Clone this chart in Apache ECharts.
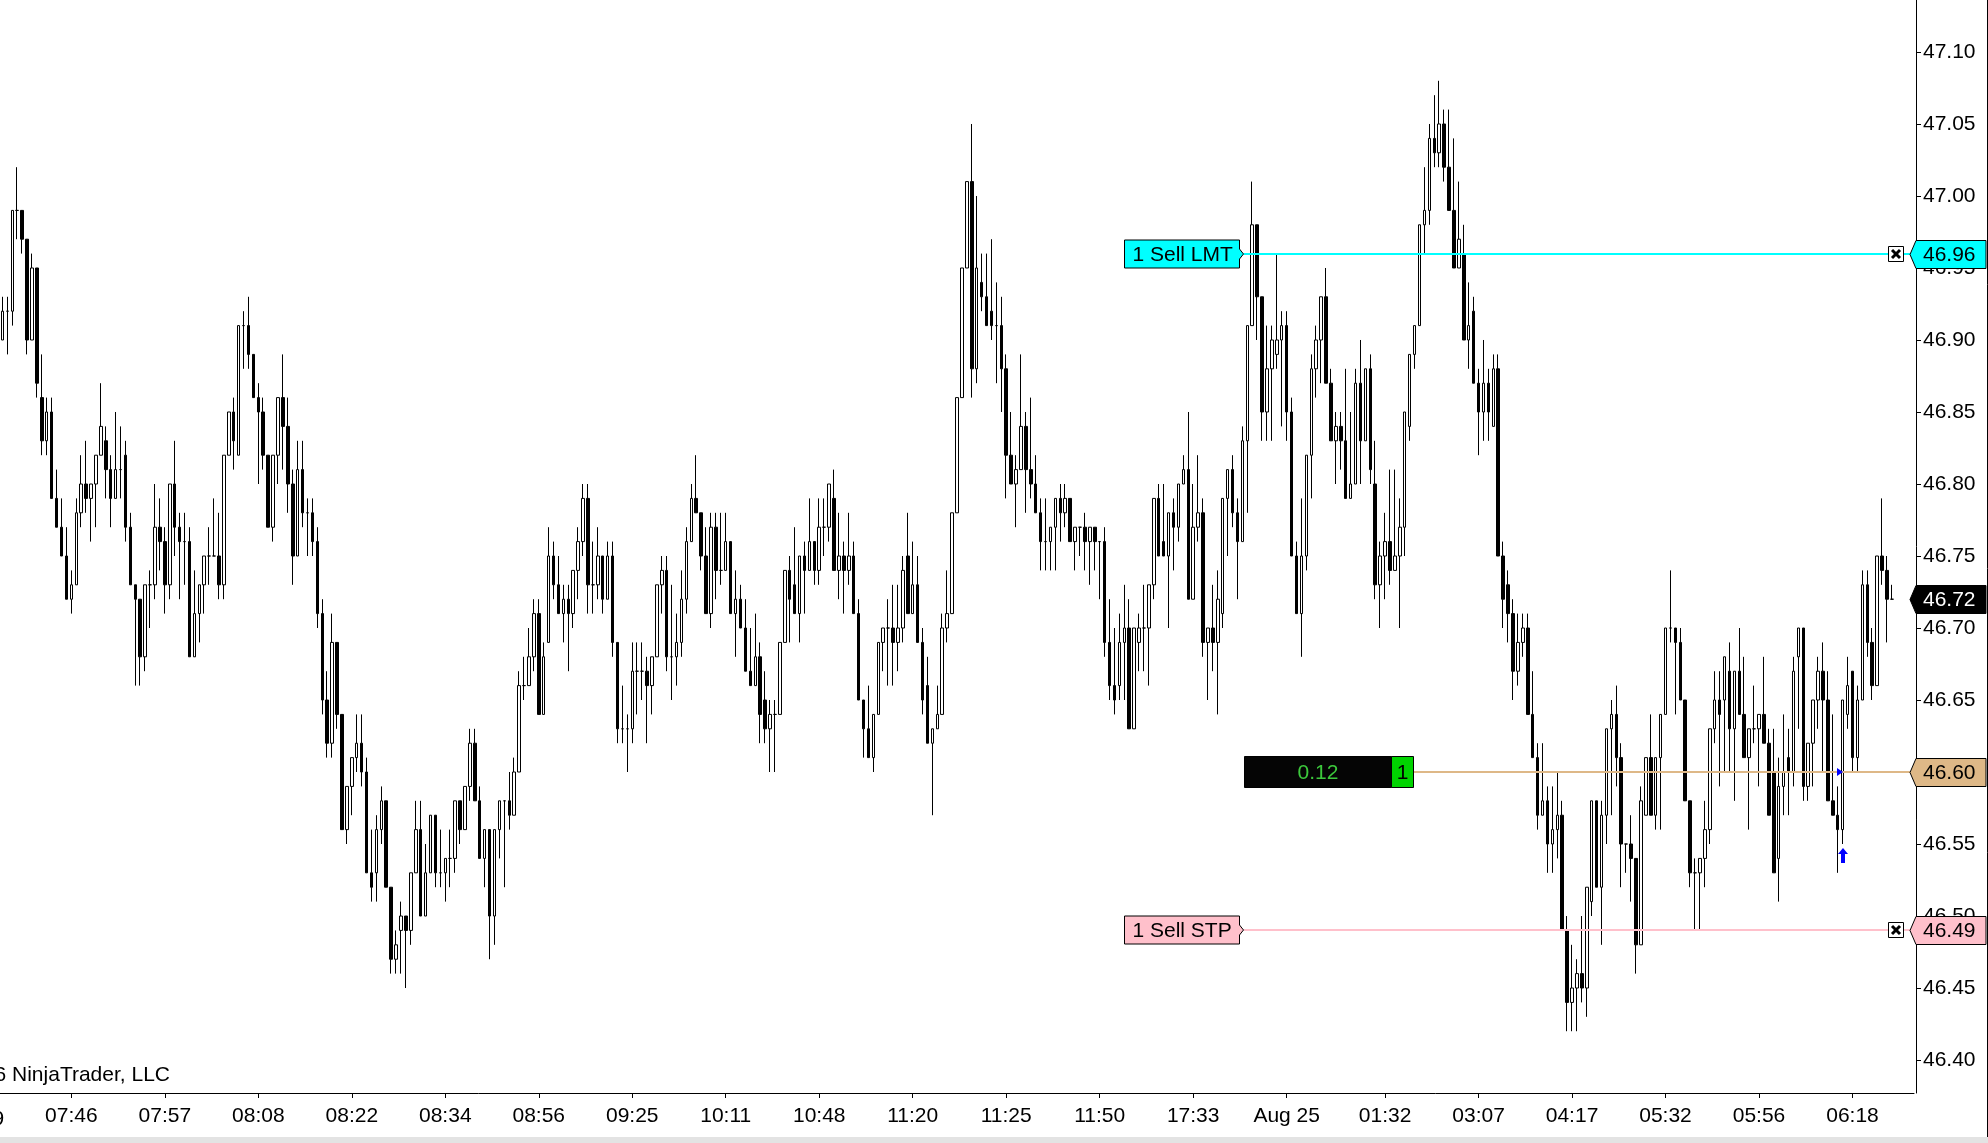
<!DOCTYPE html>
<html>
<head>
<meta charset="utf-8">
<script src="https://cdn.jsdelivr.net/npm/echarts@6/dist/echarts.min.js"></script>
<style>
html,body{margin:0;padding:0;background:#fff;overflow:hidden;}
#chart{width:1988px;height:1143px;}
</style>
</head>
<body>
<div id="chart"></div>
<script>
// ---- DATA (prices in cents, 4692 = 46.92) ----
const openC = [
4690,4692,4692,4699,4699,4697,4690,4695,4686,4683,
4685,4679,4677,4675,4672,4673,4678,4680,4679,4680,
4682,4683,4681,4679,4681,4682,4677,4673,4672,4668,
4673,4673,4677,4676,4673,4680,4677,4676,4676,4668,
4671,4673,4675,4675,4675,4673,4682,4685,4682,4691,
4691,4689,4686,4685,4682,4677,4682,4686,4684,4680,
4675,4681,4678,4678,4676,4671,4665,4662,4669,4664,
4656,4659,4661,4662,4660,4653,4653,4656,4658,4652,
4647,4649,4650,4649,4653,4656,4650,4653,4657,4653,
4653,4654,4654,4658,4656,4659,4662,4658,4654,4656,
4650,4656,4658,4658,4657,4660,4666,4666,4668,4671,
4664,4669,4675,4673,4671,4672,4671,4674,4676,4679,
4673,4673,4675,4672,4675,4669,4663,4663,4663,4667,
4667,4667,4666,4668,4673,4674,4668,4668,4669,4672,
4676,4679,4678,4675,4671,4677,4674,4674,4676,4671,
4672,4670,4667,4666,4668,4665,4663,4664,4664,4669,
4674,4673,4671,4675,4674,4676,4674,4677,4677,4679,
4674,4675,4674,4675,4671,4665,4663,4661,4664,4669,
4670,4670,4669,4670,4675,4671,4673,4669,4666,4662,
4663,4664,4670,4671,4678,4686,4695,4701,4688,4694,
4693,4692,4691,4691,4688,4682,4680,4681,4684,4681,
4680,4678,4676,4676,4677,4679,4678,4679,4676,4677,
4677,4676,4677,4676,4676,4669,4666,4666,4669,4670,
4663,4669,4670,4670,4673,4679,4676,4675,4678,4677,
4680,4681,4672,4677,4678,4669,4670,4669,4671,4679,
4681,4678,4676,4683,4691,4698,4693,4685,4688,4689,
4690,4691,4685,4675,4671,4675,4682,4688,4690,4693,
4687,4683,4684,4683,4679,4680,4687,4683,4688,4680,
4673,4675,4676,4674,4675,4677,4684,4689,4691,4698,
4699,4704,4703,4705,4702,4699,4695,4696,4690,4692,
4687,4685,4687,4684,4688,4675,4673,4671,4667,4669,
4670,4664,4661,4657,4658,4655,4656,4657,4649,4644,
4645,4646,4645,4651,4658,4652,4657,4663,4664,4661,
4655,4655,4654,4648,4657,4661,4657,4661,4664,4670,
4670,4669,4665,4658,4653,4653,4654,4656,4663,4665,
4665,4667,4663,4667,4664,4661,4663,4663,4664,4662,
4660,4654,4659,4661,4660,4668,4670,4659,4662,4665,
4667,4665,4658,4657,4656,4664,4667,4661,4665,4673,
4669,4666,4675,4674,4672];
const highC = [
4693,4693,4699,4702,4699,4697,4696,4695,4689,4686,
4686,4681,4679,4677,4674,4679,4682,4683,4680,4682,
4687,4684,4682,4685,4684,4683,4678,4673,4672,4673,
4674,4680,4679,4677,4680,4683,4678,4678,4677,4674,
4673,4675,4677,4679,4678,4682,4685,4686,4691,4692,
4693,4689,4687,4686,4682,4682,4686,4689,4686,4681,
4683,4683,4679,4679,4677,4672,4667,4671,4669,4664,
4659,4661,4664,4664,4661,4656,4657,4659,4658,4652,
4649,4651,4650,4653,4658,4658,4655,4657,4657,4656,
4654,4656,4658,4658,4659,4663,4663,4659,4656,4656,
4656,4658,4658,4660,4661,4667,4668,4670,4672,4672,
4669,4677,4676,4675,4673,4673,4674,4677,4680,4680,
4676,4677,4675,4676,4676,4669,4666,4664,4669,4669,
4669,4668,4668,4673,4675,4675,4673,4671,4674,4677,
4680,4682,4678,4677,4678,4678,4678,4678,4676,4674,
4673,4672,4670,4671,4669,4667,4665,4665,4669,4674,
4675,4677,4675,4676,4679,4676,4679,4679,4680,4681,
4678,4676,4678,4676,4672,4665,4666,4664,4669,4670,
4672,4673,4673,4675,4678,4676,4675,4670,4668,4663,
4666,4671,4674,4678,4686,4695,4701,4705,4700,4696,
4696,4697,4694,4693,4689,4685,4682,4689,4685,4686,
4682,4679,4679,4677,4679,4680,4680,4679,4677,4677,
4678,4677,4677,4676,4677,4672,4670,4671,4673,4672,
4670,4671,4673,4673,4679,4680,4680,4678,4679,4680,
4682,4685,4680,4682,4679,4670,4673,4674,4679,4681,
4682,4679,4684,4691,4701,4698,4693,4691,4691,4696,
4692,4692,4686,4676,4679,4682,4689,4691,4693,4695,
4688,4685,4685,4688,4685,4688,4690,4688,4689,4683,
4676,4678,4681,4681,4679,4685,4689,4691,4698,4702,
4705,4707,4708,4706,4706,4704,4701,4698,4694,4693,
4688,4690,4688,4689,4689,4676,4674,4672,4671,4671,
4671,4667,4662,4662,4659,4659,4660,4658,4650,4648,
4647,4650,4652,4658,4658,4658,4663,4665,4666,4662,
4655,4657,4654,4659,4661,4664,4661,4664,4670,4674,
4670,4670,4665,4658,4654,4654,4658,4663,4667,4667,
4668,4669,4667,4670,4668,4663,4666,4664,4668,4663,
4663,4661,4664,4663,4668,4670,4670,4662,4665,4668,
4669,4667,4664,4659,4665,4668,4667,4666,4674,4674,
4670,4675,4679,4675,4673];
const lowC = [
4690,4689,4691,4697,4696,4689,4690,4686,4682,4682,
4679,4677,4675,4672,4671,4673,4677,4678,4676,4677,
4682,4679,4677,4679,4679,4676,4673,4666,4666,4667,
4670,4672,4674,4671,4672,4675,4672,4673,4668,4668,
4669,4671,4673,4675,4672,4672,4682,4681,4682,4688,
4688,4686,4680,4681,4677,4676,4680,4681,4678,4673,
4675,4677,4675,4675,4670,4664,4661,4661,4663,4656,
4655,4657,4660,4659,4653,4651,4651,4655,4652,4646,
4646,4646,4645,4648,4653,4650,4650,4653,4652,4652,
4651,4652,4653,4655,4656,4658,4658,4654,4652,4647,
4648,4654,4652,4656,4657,4660,4665,4666,4667,4664,
4664,4669,4672,4671,4669,4667,4670,4672,4675,4671,
4671,4672,4671,4672,4668,4662,4662,4660,4662,4664,
4665,4662,4664,4668,4671,4667,4665,4666,4668,4671,
4676,4678,4674,4671,4670,4672,4673,4674,4671,4668,
4670,4667,4666,4666,4662,4662,4660,4660,4664,4669,
4669,4671,4669,4671,4674,4673,4673,4675,4676,4674,
4672,4671,4673,4671,4665,4661,4661,4660,4664,4667,
4666,4666,4667,4669,4671,4671,4669,4664,4662,4657,
4663,4664,4669,4671,4678,4686,4695,4686,4687,4692,
4691,4690,4687,4685,4679,4680,4677,4681,4678,4679,
4678,4674,4674,4674,4674,4676,4677,4676,4674,4675,
4674,4673,4674,4672,4668,4665,4664,4665,4665,4663,
4663,4667,4667,4666,4672,4675,4675,4670,4674,4676,
4680,4672,4672,4676,4668,4665,4667,4664,4670,4675,
4677,4672,4676,4678,4691,4690,4683,4683,4683,4688,
4684,4683,4675,4671,4668,4674,4679,4686,4687,4687,
4683,4680,4681,4679,4679,4680,4680,4683,4680,4672,
4670,4672,4673,4674,4670,4675,4683,4688,4691,4696,
4698,4702,4702,4701,4699,4695,4695,4690,4688,4687,
4682,4683,4683,4684,4675,4670,4669,4665,4666,4668,
4664,4661,4656,4657,4653,4653,4654,4649,4642,4642,
4642,4644,4643,4650,4652,4648,4655,4657,4659,4652,
4653,4651,4646,4648,4657,4657,4656,4656,4664,4669,
4664,4665,4658,4652,4649,4649,4652,4655,4662,4659,
4660,4660,4658,4664,4661,4656,4662,4659,4662,4657,
4653,4651,4657,4657,4659,4663,4658,4658,4659,4663,
4660,4658,4657,4653,4655,4663,4660,4660,4665,4668,
4665,4666,4673,4669,4672];
const closeC = [
4692,4692,4699,4699,4697,4690,4695,4687,4683,4685,
4679,4677,4675,4672,4673,4678,4680,4679,4680,4682,
4684,4681,4679,4681,4681,4677,4673,4672,4668,4673,
4673,4677,4676,4673,4680,4677,4676,4676,4668,4671,
4673,4675,4675,4675,4673,4682,4685,4683,4691,4691,
4689,4686,4685,4682,4677,4682,4686,4684,4680,4675,
4681,4678,4678,4676,4671,4665,4662,4669,4664,4656,
4659,4661,4662,4660,4653,4652,4656,4658,4652,4647,
4648,4650,4649,4653,4656,4650,4653,4657,4653,4653,
4654,4654,4658,4656,4659,4662,4658,4654,4656,4650,
4656,4658,4658,4657,4660,4666,4666,4668,4671,4664,
4668,4675,4673,4671,4672,4671,4674,4676,4679,4673,
4673,4675,4672,4675,4669,4663,4663,4663,4667,4667,
4667,4666,4668,4673,4674,4668,4668,4669,4672,4676,
4679,4678,4675,4671,4677,4674,4674,4676,4671,4672,
4670,4667,4666,4668,4664,4663,4664,4664,4669,4674,
4672,4671,4675,4674,4676,4674,4677,4677,4680,4674,
4675,4674,4675,4671,4665,4663,4661,4664,4669,4670,
4670,4669,4670,4674,4671,4673,4669,4665,4662,4663,
4664,4670,4671,4678,4686,4695,4701,4688,4695,4693,
4691,4691,4691,4688,4682,4680,4681,4684,4681,4680,
4678,4676,4676,4677,4679,4678,4679,4676,4677,4677,
4676,4677,4676,4676,4669,4666,4665,4669,4670,4663,
4670,4670,4670,4673,4679,4675,4675,4678,4677,4680,
4681,4672,4677,4678,4669,4670,4669,4672,4679,4681,
4678,4676,4683,4691,4698,4693,4685,4688,4690,4690,
4691,4685,4675,4671,4675,4682,4688,4690,4693,4687,
4683,4684,4683,4679,4680,4687,4683,4688,4681,4673,
4675,4676,4674,4675,4677,4685,4689,4691,4698,4699,
4704,4703,4705,4702,4699,4695,4697,4690,4691,4687,
4685,4687,4685,4688,4675,4672,4671,4667,4669,4670,
4664,4661,4657,4658,4655,4656,4657,4649,4644,4645,
4646,4645,4652,4658,4652,4657,4663,4664,4661,4655,
4655,4654,4648,4658,4661,4657,4661,4664,4670,4670,
4669,4665,4658,4653,4653,4654,4656,4663,4665,4664,
4668,4663,4667,4664,4661,4663,4663,4664,4662,4657,
4653,4659,4660,4660,4667,4670,4659,4662,4665,4667,
4665,4658,4657,4656,4665,4666,4661,4665,4673,4669,
4666,4675,4674,4672,4672];

const tickBars = [14,33,52,71,90,109,128,147,166,185,204,223,242,261,281,300,319,338,357,376];
const tickLabels = ['07:46','07:57','08:08','08:22','08:34','08:56','09:25','10:11','10:48','11:20',
                    '11:25','11:50','17:33','Aug 25','01:32','03:07','04:17','05:32','05:56','06:18'];
const yTicks = [46.40,46.45,46.50,46.55,46.60,46.65,46.70,46.75,46.80,46.85,46.90,46.95,47.00,47.05,47.10];
const orderLabels = ['1 Sell LMT','1 Sell STP'];
const orderPrices = [46.96, 46.49];
const positionPrice = 46.60;
const positionPnl = '0.12';
const positionQty = '1';
const entryBar = 374;
const copyrightText = '\u00A9 2016 NinjaTrader, LLC';
const cutLabel = '07:39';

// ---- BUILD ----
const N = openC.length;
const SLOTS = 389;
const categories = Array.from({length: SLOTS}, (_, i) => String(i));
const candleData = openC.map((o, i) => [o / 100, closeC[i] / 100, lowC[i] / 100, highC[i] / 100]);
const labelAt = {};
tickBars.forEach((b, k) => { labelAt[b] = tickLabels[k]; });
const isTick = (idx) => labelAt[idx] !== undefined;
const lastPrice = closeC[N - 1] / 100;

const FONT = '"Liberation Sans", Arial, Helvetica, sans-serif';
const FS = 21;
const AXIS_OFFSET = 2;
const ORDER_LABEL_BAR = 228;
const orderFills = ['#00FFFF', '#FFC0CB'];
const tagFills = ['#00FFFF', '#000000', '#DEB887', '#FFC0CB'];
const tagTextColors = ['#000000', '#FFFFFF', '#000000', '#000000'];
const tagData = [
  [N - 1, orderPrices[0], 0],
  [N - 1, lastPrice, 1],
  [N - 1, positionPrice, 2],
  [N - 1, orderPrices[1], 3]
];

const chart = echarts.init(document.getElementById('chart'), null, {renderer: 'canvas'});

const option = {
  animation: false,
  backgroundColor: '#ffffff',
  textStyle: {fontFamily: FONT},
  grid: {left: -1, right: 74, top: 0, bottom: 50, containLabel: false},
  xAxis: {
    type: 'category',
    data: categories,
    boundaryGap: true,
    axisLine: {show: true, lineStyle: {color: '#000', width: 1}},
    axisTick: {show: true, alignWithLabel: true, length: 5, interval: (idx) => isTick(idx), lineStyle: {color: '#000', width: 1}},
    axisLabel: {
      show: true,
      interval: (idx) => isTick(idx),
      formatter: (val, idx) => labelAt[idx] || '',
      fontSize: FS, color: '#000', margin: 13, fontFamily: FONT
    },
    splitLine: {show: false}
  },
  yAxis: {
    type: 'value',
    position: 'right',
    offset: AXIS_OFFSET,
    min: 46.3771,
    max: 47.1361,
    axisLine: {show: true, lineStyle: {color: '#000', width: 1}},
    axisTick: {show: true, length: 5, customValues: yTicks, lineStyle: {color: '#000', width: 1}},
    axisLabel: {
      show: true, customValues: yTicks,
      formatter: (v) => v.toFixed(2),
      fontSize: FS, color: '#000', margin: 7, fontFamily: FONT
    },
    splitLine: {show: false}
  },
  graphic: [
    {type: 'text', x: 170, y: 1075, z: 5,
     style: {text: copyrightText, font: FS + 'px ' + FONT, fill: '#000', align: 'right', verticalAlign: 'middle'}},
    {type: 'text', x: -22, y: 1119, z: 5,
     style: {text: cutLabel, font: FS + 'px ' + FONT, fill: '#000', align: 'center', verticalAlign: 'middle'}},
    {type: 'line', shape: {x1: 1987.5, y1: 0, x2: 1987.5, y2: 1137}, style: {stroke: '#000', lineWidth: 1}, z: 5},
    {type: 'rect', shape: {x: 0, y: 1137, width: 1988, height: 6}, style: {fill: '#E3E3E3'}, z: 5}
  ],
  series: [
    {
      type: 'candlestick',
      name: 'price',
      data: candleData,
      barWidth: 3,
      large: false,
      itemStyle: {color: '#FFFFFF', color0: '#000000', borderColor: '#000000', borderColor0: '#000000', borderWidth: 1},
      z: 2
    },
    {
      type: 'custom',
      name: 'position',
      coordinateSystem: 'cartesian2d',
      clip: false, silent: true, z: 5,
      data: [[entryBar, positionPrice, lowC[entryBar] / 100]],
      renderItem: (params, api) => {
        const cs = params.coordSys;
        const p = api.value(1);
        const pt = api.coord([ORDER_LABEL_BAR, p]);
        const y = Math.round(pt[1]);
        const bx = Math.round(pt[0]) + 120;
        const ax = cs.x + cs.width + AXIS_OFFSET;
        const ep = api.coord([api.value(0), p]);
        const ex = Math.round(ep[0]);
        const lowY = Math.round(api.coord([api.value(0), api.value(2)])[1]) + 4;
        return {type: 'group', children: [
          {type: 'line', shape: {x1: bx + 170, y1: y, x2: ax - 6, y2: y}, style: {stroke: '#DEB887', lineWidth: 2}},
          {type: 'rect', shape: {x: bx + 0.5, y: y - 15.5, width: 147, height: 31}, style: {fill: '#050505', stroke: '#000', lineWidth: 1}},
          {type: 'rect', shape: {x: bx + 147.5, y: y - 15.5, width: 22, height: 31}, style: {fill: '#00D300', stroke: '#000', lineWidth: 1}},
          {type: 'text', style: {x: bx + 74, y: y + 1, text: positionPnl, font: FS + 'px ' + FONT, fill: '#3CC83C', align: 'center', verticalAlign: 'middle'}},
          {type: 'text', style: {x: bx + 158.5, y: y + 1, text: positionQty, font: FS + 'px ' + FONT, fill: '#000', align: 'center', verticalAlign: 'middle'}},
          {type: 'polygon', shape: {points: [[ex - 6, y - 4], [ex, y], [ex - 6, y + 4]]}, style: {fill: '#0000FF'}},
          {type: 'polygon', shape: {points: [[ex, lowY], [ex - 5, lowY + 6], [ex - 2, lowY + 6], [ex - 2, lowY + 15], [ex + 2, lowY + 15], [ex + 2, lowY + 6], [ex + 5, lowY + 6]]}, style: {fill: '#0000FF'}}
        ]};
      }
    },
    {
      type: 'custom',
      name: 'orders',
      coordinateSystem: 'cartesian2d',
      clip: false, silent: true, z: 6,
      data: orderPrices.map((p, i) => [ORDER_LABEL_BAR, p, i]),
      renderItem: (params, api) => {
        const cs = params.coordSys;
        const i = api.value(2);
        const p = api.value(1);
        const pt = api.coord([ORDER_LABEL_BAR, p]);
        const lx = Math.round(pt[0]) + 0.5;
        const y = Math.round(pt[1]);
        const ax = cs.x + cs.width + AXIS_OFFSET;
        const fill = orderFills[i];
        const bw = 115, tip = 4, hh = 14;
        const xb = Math.round(cs.x + cs.width - 26) + 0.5;
        return {type: 'group', children: [
          {type: 'line', shape: {x1: lx + bw + tip, y1: y, x2: ax - 6, y2: y}, style: {stroke: fill, lineWidth: 2}},
          {type: 'polygon', shape: {points: [[lx, y - hh], [lx + bw, y - hh], [lx + bw, y - 5], [lx + bw + tip, y], [lx + bw, y + 5], [lx + bw, y + hh], [lx, y + hh]]},
           style: {fill: fill, stroke: '#000', lineWidth: 1}},
          {type: 'text', style: {x: lx + 8, y: y + 1, text: orderLabels[i], font: FS + 'px ' + FONT, fill: '#000', align: 'left', verticalAlign: 'middle'}},
          {type: 'rect', shape: {x: xb, y: y - 7.5, width: 15, height: 15}, style: {fill: '#fff', stroke: '#000', lineWidth: 1}},
          {type: 'line', shape: {x1: xb + 3.5, y1: y - 4, x2: xb + 11.5, y2: y + 4}, style: {stroke: '#000', lineWidth: 3}},
          {type: 'line', shape: {x1: xb + 11.5, y1: y - 4, x2: xb + 3.5, y2: y + 4}, style: {stroke: '#000', lineWidth: 3}}
        ]};
      }
    },
    {
      type: 'custom',
      name: 'tags',
      coordinateSystem: 'cartesian2d',
      clip: false, silent: true, z: 7,
      data: tagData,
      renderItem: (params, api) => {
        const cs = params.coordSys;
        const p = api.value(1);
        const k = api.value(2);
        const y = Math.round(api.coord([0, p])[1]) + 0.5;
        const ax = cs.x + cs.width + AXIS_OFFSET;
        const hh = 14;
        return {type: 'group', children: [
          {type: 'polygon', shape: {points: [[ax - 6, y], [ax, y - hh], [ax + 70, y - hh], [ax + 70, y + hh], [ax, y + hh]]},
           style: {fill: tagFills[k], stroke: '#000', lineWidth: 1}},
          {type: 'text', style: {x: ax + 7, y: y + 1, text: p.toFixed(2), font: FS + 'px ' + FONT, fill: tagTextColors[k], align: 'left', verticalAlign: 'middle'}}
        ]};
      }
    }
  ]
};

chart.setOption(option);
</script>
</body>
</html>
